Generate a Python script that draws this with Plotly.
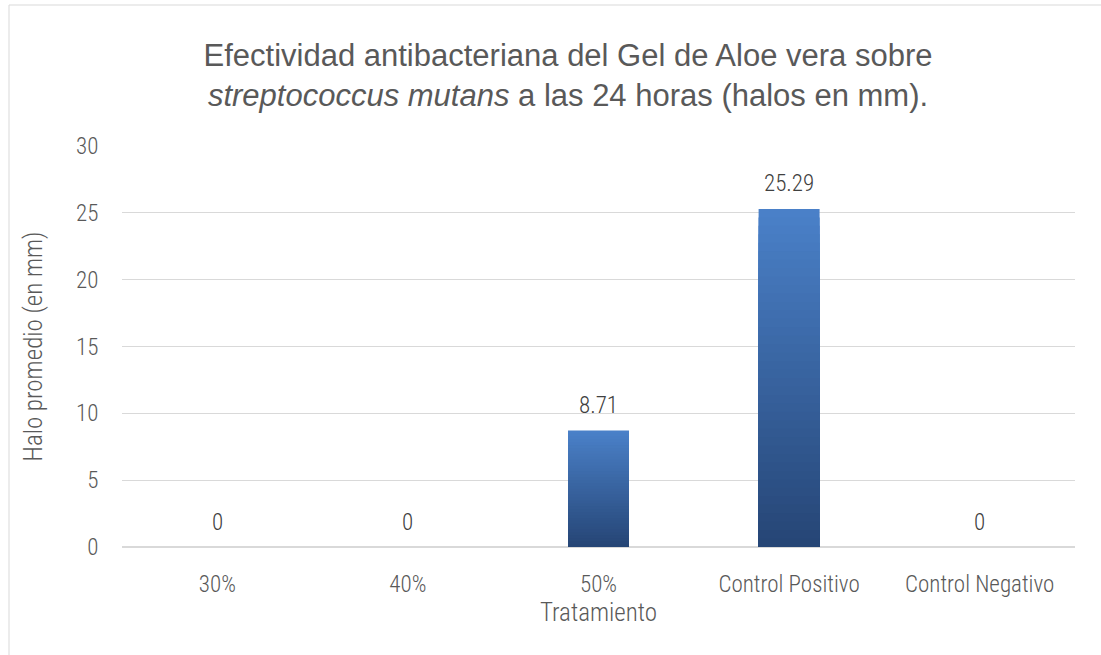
import plotly.graph_objects as go

categories = ["30%", "40%", "50%", "Control Positivo", "Control Negativo"]
values = [0, 0, 8.71, 25.29, 0]
labels = ["0", "0", "8.71", "25.29", "0"]

FONT = "Roboto Condensed, Liberation Sans Narrow, Arial Narrow, sans-serif"
TITLE_FONT = "Liberation Sans, Arial, sans-serif"
GREY = "#595959"
WEIGHT = 350

top_rgb = (74, 128, 200)
bot_rgb = (38, 70, 118)
N = 40

fig = go.Figure()
for k in range(N):
    frac = 1 - k / N
    t = k / (N - 1)
    c = tuple(round(top_rgb[i] + (bot_rgb[i] - top_rgb[i]) * t) for i in range(3))
    fig.add_trace(go.Bar(
        x=categories,
        y=[v * frac for v in values],
        marker=dict(color="rgb(%d,%d,%d)" % c, line=dict(width=0)),
        hoverinfo="skip",
        showlegend=False,
    ))

annotations = [
    dict(x=c, y=v, xref="x", yref="y", text=lab, showarrow=False,
         yanchor="middle", yshift=25,
         font=dict(family=FONT, size=23, color="#404040", weight=WEIGHT))
    for c, v, lab in zip(categories, values, labels)
]

L, R, T, B = 122, 1075, 146, 547
W, H = 1101, 655
pw, ph = R - L, B - T

fig.update_layout(
    width=W, height=H,
    barmode="overlay", bargap=0.68,
    margin=dict(l=L, r=W - R, t=T, b=H - B),
    paper_bgcolor="white", plot_bgcolor="white",
    font=dict(family=FONT, color=GREY, size=23, weight=WEIGHT),
    title=dict(
        text="Efectividad antibacteriana del Gel de Aloe vera sobre<br><i>streptococcus mutans</i> a las 24 horas (halos en mm).",
        x=568 / W, xanchor="center", y=1 - 66 / H, yanchor="middle",
        font=dict(family=TITLE_FONT, size=31, color=GREY),
    ),
    xaxis=dict(
        showgrid=False, showline=True, linecolor="#D9D9D9", linewidth=1,
        ticks="outside", ticklen=16, tickcolor="rgba(0,0,0,0)",
        tickfont=dict(size=23, color=GREY, weight=WEIGHT),
        title=dict(text="Tratamiento", font=dict(size=25, color=GREY, weight=WEIGHT), standoff=6),
    ),
    yaxis=dict(
        range=[0, 30], dtick=5, showgrid=True, gridcolor="#D9D9D9", gridwidth=1,
        zeroline=True, zerolinecolor="#D9D9D9", showline=False,
        ticks="outside", ticklen=18, tickcolor="rgba(0,0,0,0)",
        tickfont=dict(size=23, color=GREY, weight=WEIGHT),
        title=dict(text="Halo promedio (en mm)", font=dict(size=25, color=GREY, weight=WEIGHT), standoff=26),
    ),
    annotations=annotations,
    shapes=[dict(
        type="rect", xref="paper", yref="paper",
        x0=(9 - L) / pw, x1=(W + 20 - L) / pw,
        y0=(B - (H + 20)) / ph, y1=(B - 5) / ph,
        line=dict(color="#D9D9D9", width=1), fillcolor="rgba(0,0,0,0)", layer="below",
    )],
)

fig.write_html("out.html", config={"displayModeBar": False},
               post_script="document.body.style.margin='0';document.body.style.overflow='hidden';")
